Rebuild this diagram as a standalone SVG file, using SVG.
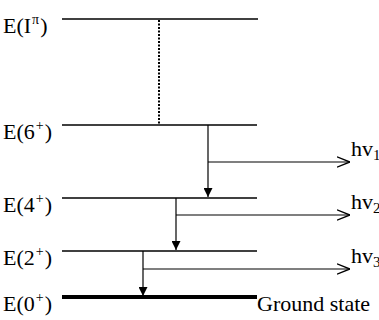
<svg xmlns="http://www.w3.org/2000/svg" width="379" height="320" viewBox="0 0 379 320">
<style>
text{font-family:"Liberation Serif","Times New Roman",serif;font-size:22px;fill:#000}
.lvl{stroke:#000;stroke-width:1.3}
.c{stroke:#000;stroke-width:1.2;fill:none}
.sup{font-size:14px}
.sub{font-size:15px}
</style>
<defs>
<marker id="tri" viewBox="0 0 10 10" refX="10" refY="5" markerWidth="9" markerHeight="9" markerUnits="userSpaceOnUse" orient="auto"><path d="M0,0 L10,5 L0,10 Z" fill="#000"/></marker>
<marker id="open" viewBox="0 0 10 10" refX="10" refY="5" markerWidth="13" markerHeight="13" markerUnits="userSpaceOnUse" orient="auto"><path d="M0,1 L10,5 L0,9" fill="none" stroke="#000" stroke-width="1.1"/></marker>
</defs>
<g id="level-I">
<text x="3" y="33">E(I<tspan class="sup" dx="1" dy="-9">π</tspan><tspan dx="1" dy="9">)</tspan></text>
<line class="lvl" x1="62" y1="19" x2="258" y2="19"/>
</g>
<g id="level-6">
<text x="3" y="139">E(6<tspan class="sup" dx="1" dy="-9">+</tspan><tspan dx="1" dy="9">)</tspan></text>
<line class="lvl" x1="62" y1="125" x2="257" y2="125"/>
</g>
<g id="level-4">
<text x="3" y="212">E(4<tspan class="sup" dx="1" dy="-9">+</tspan><tspan dx="1" dy="9">)</tspan></text>
<line class="lvl" x1="62" y1="198" x2="257" y2="198"/>
</g>
<g id="level-2">
<text x="3" y="265">E(2<tspan class="sup" dx="1" dy="-9">+</tspan><tspan dx="1" dy="9">)</tspan></text>
<line class="lvl" x1="62" y1="251" x2="257" y2="251"/>
</g>
<g id="level-0">
<text x="3" y="311">E(0<tspan class="sup" dx="1" dy="-9">+</tspan><tspan dx="1" dy="9">)</tspan></text>
<line x1="62" y1="297" x2="257" y2="297" stroke="#000" stroke-width="4"/>
<text x="257" y="311">Ground state</text>
</g>
<g id="photon-labels">
<text x="351" y="156">hv<tspan class="sub" dy="4">1</tspan></text>
<text x="351" y="209">hv<tspan class="sub" dy="4">2</tspan></text>
<text x="351" y="263">hv<tspan class="sub" dy="4">3</tspan></text>
</g>
<g id="connectors">
<line x1="159" y1="20" x2="159" y2="125" stroke="#000" stroke-width="2" stroke-dasharray="2,1.5"/>
<line class="c" x1="208" y1="125" x2="208" y2="197" marker-end="url(#tri)"/>
<line class="c" x1="208" y1="162" x2="350" y2="162" marker-end="url(#open)"/>
<line class="c" x1="176" y1="198" x2="176" y2="250" marker-end="url(#tri)"/>
<line class="c" x1="176" y1="215" x2="350" y2="215" marker-end="url(#open)"/>
<line class="c" x1="143" y1="251" x2="143" y2="296" marker-end="url(#tri)"/>
<line class="c" x1="143" y1="269" x2="350" y2="269" marker-end="url(#open)"/>
</g>
</svg>
